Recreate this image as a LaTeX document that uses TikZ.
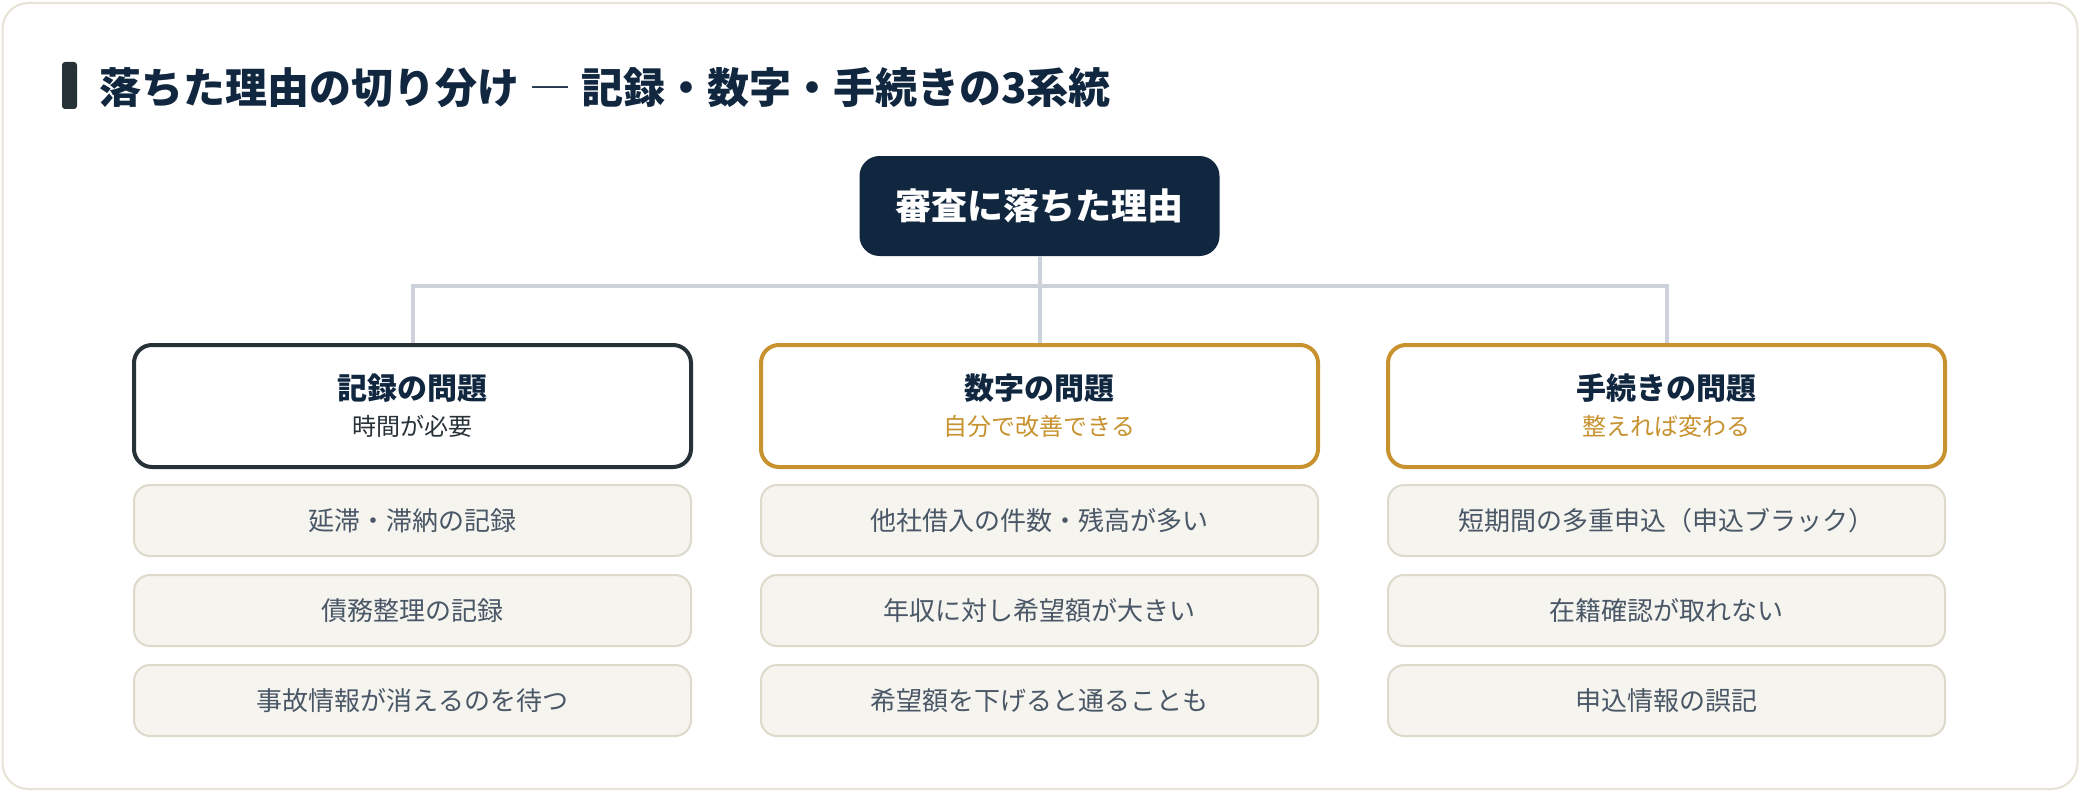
\documentclass[tikz,border=0pt]{standalone}
\usepackage{fontspec}
\setmainfont{Noto Sans CJK JP}
\usetikzlibrary{positioning}

\definecolor{navy}{HTML}{10273F}
\definecolor{inkdark}{HTML}{263238}
\definecolor{gold}{HTML}{C8922F}
\definecolor{linkgray}{HTML}{CDD2DA}
\definecolor{itemfill}{HTML}{F5F4EF}
\definecolor{itemline}{HTML}{DDD9CB}
\definecolor{itemtext}{HTML}{4A5766}
\definecolor{cardline}{HTML}{E6E2D6}

\begin{document}
\begin{tikzpicture}[
			on grid,
			node distance=45pt,
			card/.style={
				draw=cardline,
				line width=1pt,
				fill=white,
				rounded corners=13pt
			},
			titlebar/.style={
				fill=inkdark,
				rounded corners=1.5pt,
				inner sep=0pt,
				minimum width=7.5pt,
				minimum height=23.5pt
			},
			root/.style={
				fill=navy,
				rounded corners=10pt,
				minimum width=180pt,
				minimum height=50pt,
				text=white,
				font=\bfseries\fontsize{18}{22}\selectfont
			},
			catbox/.style={
				draw=#1,
				line width=2pt,
				fill=white,
				rounded corners=9pt,
				minimum width=278.5pt,
				minimum height=61pt,
				align=center,
				font=\fontsize{12}{18}\selectfont
			},
			item/.style={
				draw=itemline,
				line width=1pt,
				fill=itemfill,
				rounded corners=8pt,
				minimum width=278.5pt,
				minimum height=35.5pt,
				text=itemtext,
				font=\fontsize{13}{16}\selectfont
			},
			link/.style={
				draw=linkgray,
				line width=2pt
			}
			]
			\useasboundingbox (0,0) rectangle (1040pt,-396pt);
			\draw[card] (1.25pt,-1.5pt) rectangle (1038.75pt,-394.5pt);

			% Title
			\node[titlebar] (bar) at (34.75pt,-42.75pt) {};
			\node[anchor=west, inner sep=0pt, text=navy, font=\bfseries\fontsize{21}{24}\selectfont] (title) at (49.75pt,-43.75pt) {落ちた理由の切り分け {\mdseries ―} 記録・数字・手続きの3系統};

			% Root
			\node[root] (root) at (519.75pt,-103pt) {審査に落ちた理由};

			% Categories
			\node[catbox=gold, below=100pt of root] (catB) {{\bfseries\fontsize{15}{18}\selectfont\color{navy}数字の問題}\\{\color{gold}自分で改善できる}};
			\node[catbox=inkdark, left=313.5pt of catB] (catA) {{\bfseries\fontsize{15}{18}\selectfont\color{navy}記録の問題}\\{\color{inkdark}時間が必要}};
			\node[catbox=gold, right=313.5pt of catB] (catC) {{\bfseries\fontsize{15}{18}\selectfont\color{navy}手続きの問題}\\{\color{gold}整えれば変わる}};

			% Items
			\node[item, below=57.25pt of catA] (a1) {延滞・滞納の記録};
			\node[item, below of=a1] (a2) {債務整理の記録};
			\node[item, below of=a2] (a3) {事故情報が消えるのを待つ};
			\node[item, below=57.25pt of catB] (b1) {他社借入の件数・残高が多い};
			\node[item, below of=b1] (b2) {年収に対し希望額が大きい};
			\node[item, below of=b2] (b3) {希望額を下げると通ることも};
			\node[item, below=57.25pt of catC] (c1) {短期間の多重申込（申込ブラック）};
			\node[item, below of=c1] (c2) {在籍確認が取れない};
			\node[item, below of=c2] (c3) {申込情報の誤記};

			% Links
			\coordinate[below=15pt of root.south] (bus);
			\draw[link] (root.south) -- (bus);
			\draw[link] (catA.north) |- (bus) -| (catC.north);
			\draw[link] (bus) -- (catB.north);
		\end{tikzpicture}
\end{document}
